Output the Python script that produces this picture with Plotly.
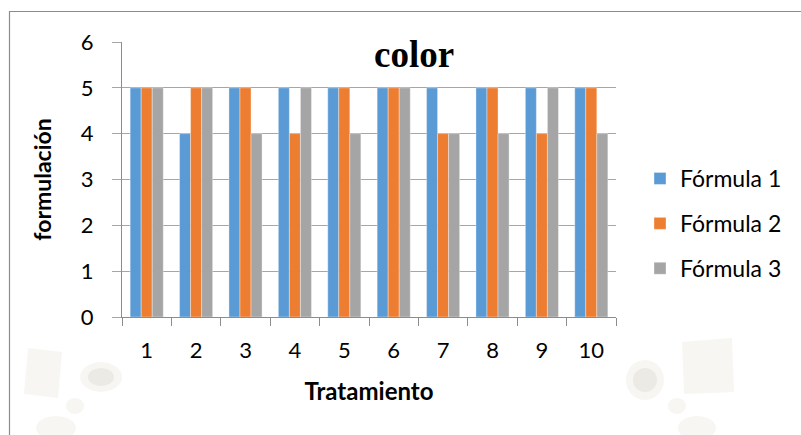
import plotly.graph_objects as go

# Data
tratamientos = ["1", "2", "3", "4", "5", "6", "7", "8", "9", "10"]
formula_1 = [5, 4, 5, 5, 5, 5, 5, 5, 5, 5]
formula_2 = [5, 5, 5, 4, 5, 5, 4, 5, 4, 5]
formula_3 = [5, 5, 4, 5, 4, 5, 4, 4, 5, 4]
series_names = ["Fórmula 1", "Fórmula 2", "Fórmula 3"]
series_colors = ["#5B9BD5", "#ED7D31", "#A5A5A5"]
y_ticks = [0, 1, 2, 3, 4, 5, 6]

W, H = 801, 435
L, R, T, B = 122, 185, 42, 118
PW, PH = W - L - R, H - T - B

def px(x):
    return (x - L) / PW

def py(y):
    return (H - B - y) / PH

fig = go.Figure()
for i, (name, vals, col) in enumerate(zip(series_names, [formula_1, formula_2, formula_3], series_colors)):
    fig.add_trace(go.Bar(
        x=tratamientos, y=vals, name=name,
        marker=dict(color=col, line=dict(width=0.6, color="rgba(255,255,255,0.6)")),
        legendgroup=f"g{i}",
    ))

font_main = "Lato, Carlito, Calibri, 'Open Sans', sans-serif"

# Faint background emblem shapes
shapes = []
wm_light = "rgba(232,230,222,0.35)"
wm_mid = "rgba(215,213,200,0.35)"
def ell(x0, y0, x1, y1, fill):
    shapes.append(dict(type="circle", xref="paper", yref="paper", x0=px(x0), x1=px(x1),
                       y0=py(y1), y1=py(y0), fillcolor=fill, line=dict(width=0), layer="below"))
def poly(pts, fill):
    d = "M " + " L ".join(f"{px(a)},{py(b)}" for a, b in pts) + " Z"
    shapes.append(dict(type="path", xref="paper", yref="paper", path=d,
                       fillcolor=fill, line=dict(width=0), layer="below"))

# left emblem
poly([(28, 348), (62, 352), (58, 398), (24, 394)], wm_light)
ell(80, 362, 122, 392, wm_light)
ell(88, 368, 114, 386, wm_mid)
ell(66, 398, 84, 414, wm_light)
ell(36, 416, 76, 440, wm_light)
# right emblem
poly([(682, 342), (732, 338), (734, 392), (684, 394)], wm_light)
ell(626, 360, 664, 400, wm_light)
ell(633, 368, 657, 392, wm_mid)
ell(668, 398, 686, 414, wm_light)
ell(678, 416, 716, 440, wm_light)

# chart border
shapes.append(dict(type="rect", xref="paper", yref="paper", x0=px(9.5), x1=px(820),
                   y0=py(460), y1=py(11.5), line=dict(color="#8c8c8c", width=1.2),
                   fillcolor="rgba(0,0,0,0)", layer="above"))

fig.update_layout(
    width=W, height=H,
    margin=dict(l=L, r=R, t=T, b=B),
    paper_bgcolor="white", plot_bgcolor="rgba(0,0,0,0)",
    barmode="group", bargap=0.33, bargroupgap=0,
    font=dict(family=font_main, size=22, color="black"),
    showlegend=True,
    legend=dict(x=px(640), y=py(157), xanchor="left", yanchor="top",
                font=dict(size=23, color="black"), itemwidth=30,
                tracegroupgap=12, bgcolor="rgba(0,0,0,0)"),
    shapes=shapes,
    annotations=[
        dict(text="<b>color</b>", x=px(414), y=py(55), xref="paper", yref="paper",
             xanchor="center", yanchor="middle", showarrow=False,
             font=dict(family="'Liberation Serif', 'Times New Roman', serif",
                       size=37, color="black")),
    ],
)
fig.update_xaxes(
    type="category", tickson="boundaries", ticks="outside", ticklen=8,
    tickcolor="#8c8c8c", showline=True, linecolor="#8c8c8c", linewidth=1.2,
    showgrid=False, tickfont=dict(size=22), ticklabelstandoff=13,
    title=dict(text="<b>Tratamiento</b>", font=dict(size=24), standoff=21),
)
fig.update_yaxes(
    range=[0, 6], tickvals=y_ticks, ticks="outside", ticklen=9,
    tickcolor="#a6a6a6", showline=True, linecolor="#8c8c8c", linewidth=1.2,
    showgrid=True, gridcolor="#a6a6a6", gridwidth=1, zeroline=False,
    tickfont=dict(size=22), ticklabelstandoff=14,
    title=dict(text="<b>formulación</b>", font=dict(size=23), standoff=22),
)

fig.write_html("out.html")
